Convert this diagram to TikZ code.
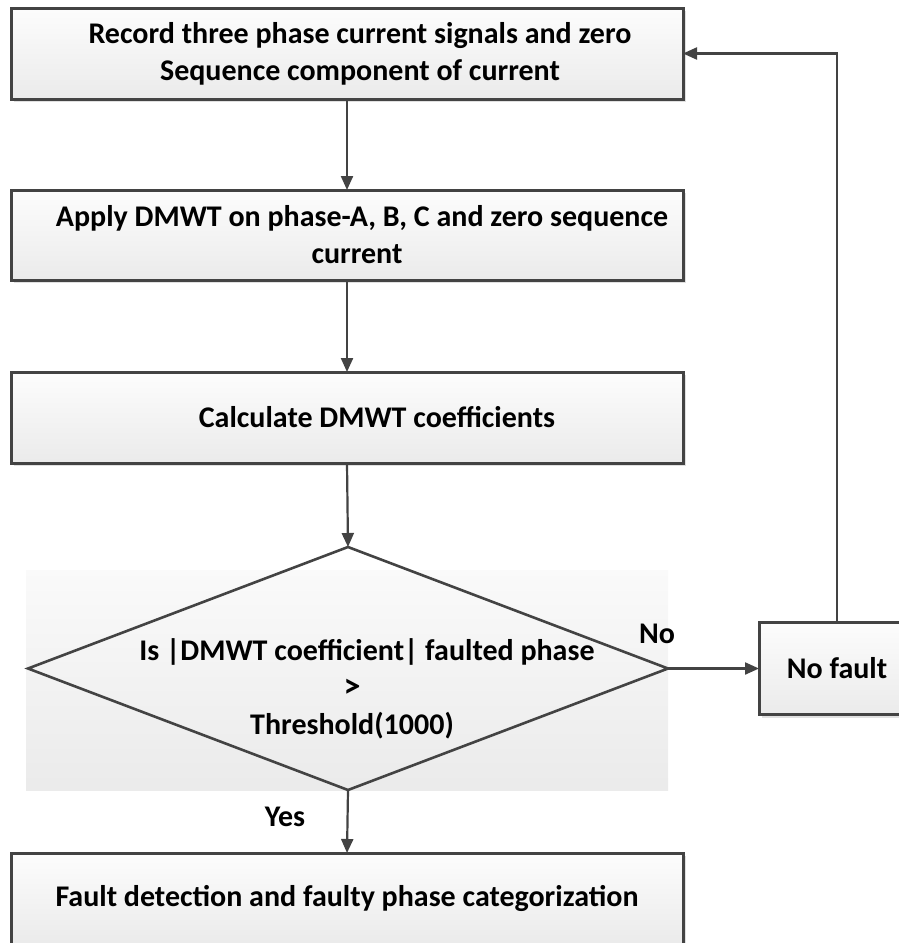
\documentclass[tikz,border=0pt]{standalone}
\usepackage{fontspec}
\setmainfont{Carlito}
\usetikzlibrary{shapes.geometric,arrows.meta,shadows}
\definecolor{edge}{HTML}{434343}
\begin{document}
\begin{tikzpicture}[x=1pt,y=-1pt,
  every node/.style={font=\fontsize{30}{37}\selectfont\bfseries, inner sep=0pt, outer sep=0pt, text=black},
  procbox/.style={rectangle, draw=edge, line width=3pt, minimum width=672pt, align=center,
    top color=white!99!black, bottom color=white!92!black,
    drop shadow={shadow xshift=3pt, shadow yshift=-3pt, fill=black!12, opacity=1}},
  decbox/.style={diamond, draw=edge, line width=2.6pt, minimum width=640pt, minimum height=243pt},
  conn/.style={draw=edge, line width=2.2pt, -{Triangle[length=14pt,width=12pt]}},
  lbl/.style={font=\fontsize{30}{37}\selectfont\bfseries}
]
\useasboundingbox (0,0) rectangle (899,943);
\clip (0,0) rectangle (899,943);
\fill[top color=white!98!black, bottom color=white!92!black] (26,570) rectangle (668,790);

\node[procbox, minimum height=91pt] (b1) at (347,53.5)
  {\hspace*{26pt}Record three phase current signals and zero\\ \hspace*{26pt}Sequence component of current};
\node[procbox, minimum height=90pt] (b2) at (347,235)
  {\hspace*{30pt}Apply DMWT on phase-A, B, C and zero sequence\\ \hspace*{20pt}current};
\node[procbox, minimum height=91pt] (b3) at (347,417.5)
  {\hspace*{60pt}Calculate DMWT coefficients};
\node[decbox, label={[align=center, xshift=4pt, yshift=-20pt]center:{\hspace*{30pt}Is |DMWT coefficient| faulted phase\\ {\fontsize{34}{37}\selectfont >}\\ Threshold(1000)}}] (dec) at (348,668.5) {};
\node[procbox, minimum height=91pt] (b4) at (347,898.5)
  {Fault detection and faulty phase categorization};
\node[procbox, minimum width=156pt, minimum height=92pt] (nf) at (837,668.5) {No fault};

\node[lbl] (yes) at (285,817) {Yes};
\node[lbl] (no) at (657,634) {No};

\draw[conn] (b1.south) -- (b2.north);
\draw[conn] (b2.south) -- (b3.north);
\draw[conn] (b3.south) -- (dec.north);
\draw[conn] (dec.south) -- (b4.north);
\draw[conn] (dec.east) -- (nf.west);
\draw[conn] (nf.north) -- (nf.north |- b1.east) -- (b1.east);
\end{tikzpicture}
\end{document}
